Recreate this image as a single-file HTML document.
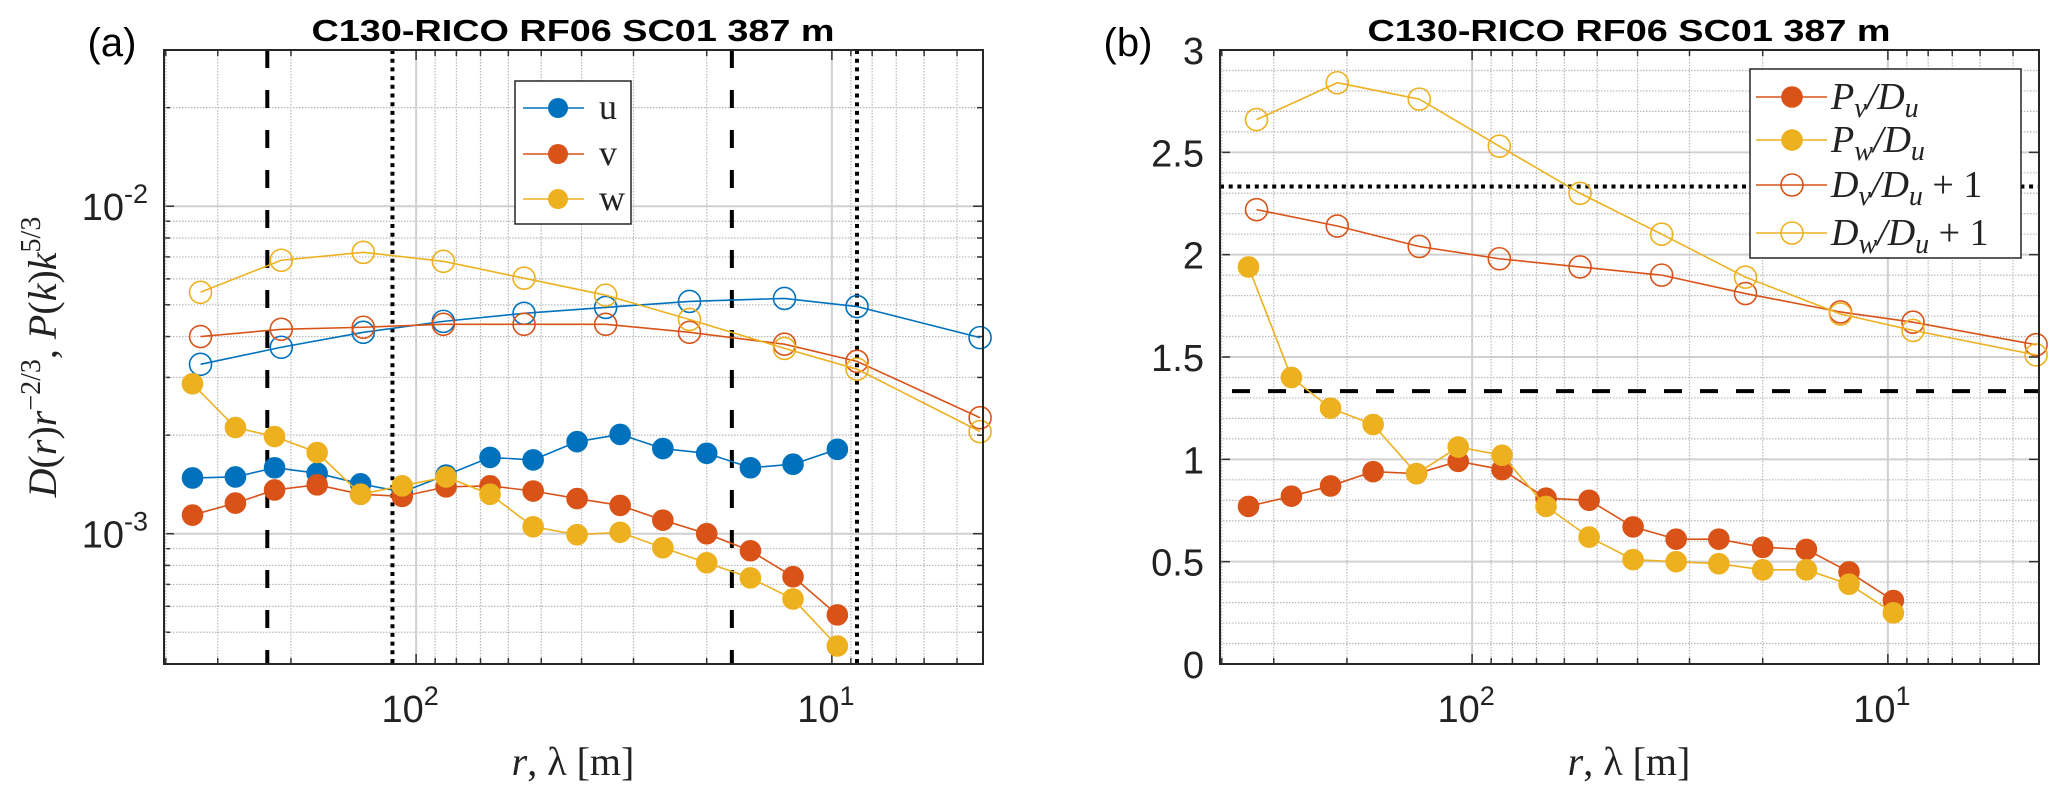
<!DOCTYPE html>
<html><head><meta charset="utf-8"><style>
html,body{margin:0;padding:0;background:#fff;}
svg{display:block;}
text{font-family:"Liberation Sans",sans-serif;}
.serif{font-family:"Liberation Serif",serif;}
</style></head><body>
<svg id="fig" width="2067" height="797" viewBox="0 0 2067 797" xmlns="http://www.w3.org/2000/svg"></svg>
<script>
// ---- data ----
const rFilled = [345,272,219,173,136,108,84.7,66.4,52.3,41.0,32.3,25.5,20.0,15.7,12.4,9.7];
const rOpen = [330,211,134,86,55,35,22,13,8.7,4.4];
const uFilled = [1.48,1.49,1.59,1.53,1.42,1.34,1.51,1.71,1.68,1.91,2.01,1.82,1.76,1.59,1.63,1.81].map(v=>v*1e-3);
const vFilled = [1.14,1.24,1.36,1.41,1.32,1.30,1.39,1.40,1.35,1.28,1.22,1.10,1.00,0.887,0.739,0.565].map(v=>v*1e-3);
const wFilled = [2.87,2.11,1.98,1.77,1.32,1.40,1.49,1.32,1.05,0.993,1.01,0.906,0.815,0.733,0.632,0.454].map(v=>v*1e-3);
const uOpen = [3.29,3.71,4.12,4.45,4.71,4.91,5.12,5.23,4.94,3.97].map(v=>v*1e-3);
const vOpen = [4.00,4.21,4.27,4.36,4.36,4.36,4.12,3.79,3.36,2.26].map(v=>v*1e-3);
const wOpen = [5.46,6.84,7.23,6.79,6.03,5.35,4.51,3.68,3.18,2.05].map(v=>v*1e-3);
const PvDu = [0.77,0.82,0.87,0.94,0.93,0.99,0.95,0.81,0.80,0.67,0.61,0.61,0.57,0.56,0.45,0.31];
const PwDu = [1.94,1.40,1.25,1.17,0.93,1.06,1.02,0.77,0.62,0.51,0.50,0.49,0.46,0.46,0.39,0.25];
const DvDu1 = [2.22,2.14,2.04,1.98,1.94,1.90,1.81,1.72,1.67,1.56];
const DwDu1 = [2.66,2.84,2.76,2.53,2.30,2.10,1.89,1.71,1.63,1.51];
const vDashedA = [228,17.4];
const vDottedA = [114,8.7];
const hDottedB = [7/3];
const hDashedB = [4/3];
const yTicksB = [0,0.5,1,1.5,2,2.5,3];
const yTickLabelsB = ["0","0.5","1","1.5","2","2.5","3"];
const titleText = "C130-RICO RF06 SC01 387 m";

const C = {u:"#0072BD", v:"#D95319", w:"#EDB120"};
const NS="http://www.w3.org/2000/svg";
const svg=document.getElementById('fig');
function el(tag,attrs,parent){const e=document.createElementNS(NS,tag);for(const k in attrs)e.setAttribute(k,attrs[k]);(parent||svg).appendChild(e);return e;}

const TOP=50,BOT=664,W=819;
const rMax=404,rMin=4.33;
function mkX(left){return r=>left+(Math.log10(rMax)-Math.log10(r))/(Math.log10(rMax)-Math.log10(rMin))*W;}
const xA=mkX(164), xB=mkX(1220);
const yA=v=>TOP+(Math.log10(0.03)-Math.log10(v))/(Math.log10(0.03)-Math.log10(4e-4))*(BOT-TOP);
const yB=v=>TOP+(3-v)/3*(BOT-TOP);

function xGrid(g,xf,left){
  for(let d=0;d<=2;d++){for(let m=1;m<=9;m++){const r=m*Math.pow(10,d);if(r>rMax||r<rMin)continue;const x=xf(r);
    const major=(m===1);
    const l=el('line',{x1:x,x2:x,y1:TOP,y2:BOT,stroke:major?'#d0d0d0':'#b8b8b8','stroke-width':major?2:1.2,'stroke-dasharray':major?'':'1.5,1.5'},g);
    
    el('line',{x1:x,x2:x,y1:BOT,y2:BOT-(major?10:6),stroke:'#333','stroke-width':1.5},g);
    el('line',{x1:x,x2:x,y1:TOP,y2:TOP+(major?10:6),stroke:'#333','stroke-width':1.5},g);
  }}
}
function xTickLabels(g,xf){
  [[100,'2'],[10,'1']].forEach(([r,e])=>{const t=el('text',{x:xf(r)-6,y:722,'font-size':38,'text-anchor':'middle',fill:'#222'},g);
    
    t.textContent='10';const s=el('tspan',{dy:-17,'font-size':27},t);s.textContent=e;});
}
function xLabel(g,cx){
  const t=el('text',{x:cx,y:775,'font-size':40,'text-anchor':'middle',class:'serif',fill:'#222'},g);
  
  const a=el('tspan',{'font-style':'italic'},t);a.textContent='r';
  const b=el('tspan',{},t);b.textContent=', λ [m]';
}
function frame(g,left){const r=el('rect',{x:left,y:TOP,width:W,height:BOT-TOP,fill:'none',stroke:'#262626','stroke-width':2},g);
  }
function title(g,cx){const t=el('text',{x:cx,y:41,'font-size':31,'font-weight':'bold','text-anchor':'middle',textLength:523,lengthAdjust:'spacingAndGlyphs',fill:'#000'},g);
  t.textContent=titleText;}
function series(g,xs,ys,xf,yf,color,filled,name){
  const pts=xs.map((r,i)=>xf(r)+','+yf(ys[i])).join(' ');
  const pl=el('polyline',{points:pts,fill:'none',stroke:color,'stroke-width':1.6},g);
  
  xs.forEach((r,i)=>{const c=el('circle',{cx:xf(r),cy:yf(ys[i]),r:filled?10:11,fill:filled?color:'none',stroke:color,'stroke-width':1.6},g);
    });
}

// ===== Panel A =====
const gA=el('g',{});
for(let d=-4;d<=-2;d++){for(let m=1;m<=9;m++){const v=m*Math.pow(10,d);if(v<4e-4||v>0.03)continue;const y=yA(v);const major=m===1;
  const l=el('line',{x1:164,x2:983,y1:y,y2:y,stroke:major?'#d0d0d0':'#b8b8b8','stroke-width':major?2:1.2,'stroke-dasharray':major?'':'1.5,1.5'},gA);
  
  el('line',{x1:164,x2:164+(major?10:6),y1:y,y2:y,stroke:'#333','stroke-width':1.5},gA);
  el('line',{x1:983,x2:983-(major?10:6),y1:y,y2:y,stroke:'#333','stroke-width':1.5},gA);}}
xGrid(gA,xA,164);
[[0.01,'-2'],[0.001,'-3']].forEach(([v,e])=>{const t=el('text',{x:148,y:yA(v)+14,'font-size':38,'text-anchor':'end',fill:'#222'},gA);
  
  const a=el('tspan',{},t);a.textContent='10';const s=el('tspan',{dy:-17,'font-size':27},t);s.textContent=e;});
vDashedA.forEach(r=>{const l=el('line',{x1:xA(r),x2:xA(r),y1:TOP,y2:BOT,stroke:'#000','stroke-width':4,'stroke-dasharray':'18,22'},gA);
  });
vDottedA.forEach(r=>{const l=el('line',{x1:xA(r),x2:xA(r),y1:TOP,y2:BOT,stroke:'#000','stroke-width':4,'stroke-dasharray':'4,4.7'},gA);
  });
series(gA,rOpen,uOpen,xA,yA,C.u,false,'u-structure');
series(gA,rOpen,vOpen,xA,yA,C.v,false,'v-structure');
series(gA,rOpen,wOpen,xA,yA,C.w,false,'w-structure');
series(gA,rFilled,uFilled,xA,yA,C.u,true,'u-spectrum');
series(gA,rFilled,vFilled,xA,yA,C.v,true,'v-spectrum');
series(gA,rFilled,wFilled,xA,yA,C.w,true,'w-spectrum');
frame(gA,164);
xTickLabels(gA,xA);xLabel(gA,573);title(gA,573);
{const t=el('text',{x:112,y:56,'font-size':40,'text-anchor':'middle',fill:'#000'},gA);t.textContent='(a)';}
{const t=el('text',{x:0,y:0,'font-size':40,'text-anchor':'middle',class:'serif',fill:'#222',transform:'translate(56,357) rotate(-90)'},gA);
  
  const parts=[['D','i'],['(','n'],['r','i'],[')','n'],['r','i'],['−2/3','s'],[',  ','n'],['P','i'],['(','n'],['k','i'],[')','n'],['k','i'],['5/3','s']];
  let sup=false;
  parts.forEach(([s,k])=>{const a={};if(k==='i')a['font-style']='italic';
    if(k==='s'){a.dy=-16;a['font-size']=28;}else if(sup){a.dy=16;}
    sup=(k==='s');const sp=el('tspan',a,t);sp.textContent=s;});}
{const lg=el('g',{},gA);
  el('rect',{x:515,y:81,width:116,height:143,fill:'#fff',stroke:'#262626','stroke-width':1.5},lg);
  [['u',C.u,108],['v',C.v,154],['w',C.w,199]].forEach(([n,c,y])=>{
    const e=el('g',{},lg);
    el('line',{x1:523,x2:584,y1:y,y2:y,stroke:c,'stroke-width':1.6},e);
    el('circle',{cx:558,cy:y,r:10,fill:c},e);
    const t=el('text',{x:599,y:y+11,'font-size':36,class:'serif',fill:'#222'},e);t.textContent=n;});}

// ===== Panel B =====
const gB=el('g',{});
for(let k=0;k<=30;k++){const v=k/10;const y=yB(v);const major=(k%5===0);
  const l=el('line',{x1:1220,x2:2039,y1:y,y2:y,stroke:major?'#d0d0d0':'#b8b8b8','stroke-width':major?2:1.2,'stroke-dasharray':major?'':'1.5,1.5'},gB);
  
  if(major){el('line',{x1:1220,x2:1230,y1:y,y2:y,stroke:'#333','stroke-width':1.5},gB);el('line',{x1:2039,x2:2029,y1:y,y2:y,stroke:'#333','stroke-width':1.5},gB);}}
xGrid(gB,xB,1220);
yTicksB.forEach((v,i)=>{const t=el('text',{x:1204,y:yB(v)+14,'font-size':38,'text-anchor':'end',fill:'#222'},gB);
  t.textContent=yTickLabelsB[i];});
hDottedB.forEach(v=>{const l=el('line',{x1:1220,x2:2039,y1:yB(v),y2:yB(v),stroke:'#000','stroke-width':4,'stroke-dasharray':'4,4.7'},gB);
  });
hDashedB.forEach(v=>{const l=el('line',{x1:1232,x2:2039,y1:yB(v),y2:yB(v),stroke:'#000','stroke-width':4,'stroke-dasharray':'18,18'},gB);
  });
series(gB,rOpen,DvDu1,xB,yB,C.v,false,'dv-du-plus-1');
series(gB,rOpen,DwDu1,xB,yB,C.w,false,'dw-du-plus-1');
series(gB,rFilled,PvDu,xB,yB,C.v,true,'pv-du');
series(gB,rFilled,PwDu,xB,yB,C.w,true,'pw-du');
frame(gB,1220);
xTickLabels(gB,xB);xLabel(gB,1629);title(gB,1629);
{const t=el('text',{x:1128,y:56,'font-size':40,'text-anchor':'middle',fill:'#000'},gB);t.textContent='(b)';}
{const lg=el('g',{},gB);
  el('rect',{x:1750,y:69,width:271,height:189,fill:'#fff',stroke:'#262626','stroke-width':1.5},lg);
  [['P','v','',C.v,97,true],['P','w','',C.w,140,true],['D','v',' + 1',C.v,185,false],['D','w',' + 1',C.w,233,false]].forEach(([a,s,p,c,y,f])=>{
    const e=el('g',{},lg);
    el('line',{x1:1756,x2:1827,y1:y,y2:y,stroke:c,'stroke-width':1.6},e);
    el('circle',{cx:1792,cy:y,r:f?10:11,fill:f?c:'none',stroke:c,'stroke-width':1.6},e);
    const t=el('text',{x:1831,y:y+12,'font-size':38,class:'serif',fill:'#222'},e);
    const t1=el('tspan',{'font-style':'italic'},t);t1.textContent=a;
    const t2=el('tspan',{'font-style':'italic','font-size':28,dy:8},t);t2.textContent=s;
    const t3=el('tspan',{'font-style':'italic',dy:-8},t);t3.textContent='/D';
    const t4=el('tspan',{'font-style':'italic','font-size':28,dy:8},t);t4.textContent='u';
    if(p){const t5=el('tspan',{dy:-8},t);t5.textContent=p;}
  });}
</script>
</body></html>
